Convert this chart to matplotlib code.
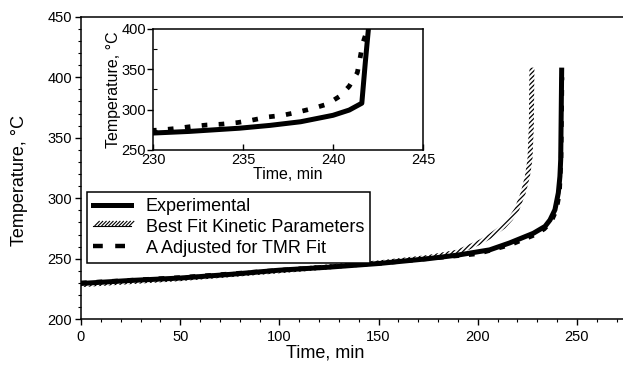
import matplotlib.pyplot as plt
import matplotlib.patheffects as pe
import numpy as np
from matplotlib.patches import Polygon
from matplotlib.lines import Line2D
from matplotlib.ticker import MultipleLocator

plt.rcParams['font.family'] = ['Liberation Sans', 'DejaVu Sans']
plt.rcParams['hatch.linewidth'] = 0.9

# ---- main plot (min, degC) ----
t_exp = [0, 25, 50, 75, 100, 125, 150, 175, 190, 206, 216, 228, 233.9, 236.4,
         238.9, 240.6, 241.4, 241.8, 242.3]
T_exp = [229.5, 232, 234, 237, 240.5, 243, 246, 250, 253, 257.3, 263, 271,
         276.7, 282, 290.5, 304.4, 318, 332, 408]

t_fit = [0, 50, 100, 150, 175, 190, 201.5, 206, 213, 216.5, 219.6, 222.9,
         225, 226.3, 227, 227.3]
T_fit = [228.5, 233.5, 240, 246.5, 251, 255.5, 264, 268.4, 276.7, 283, 290.5,
         304.4, 318, 332, 360, 408]

t_adj = [0, 50, 100, 150, 200, 216.5, 228.5, 233.5, 237, 239.6, 241.2, 242,
         242.5]
T_adj = [230, 234.5, 240.5, 246, 254, 261.5, 269.5, 274.5, 280.5, 290, 304,
         332, 400]

# ---- inset (230-245 min) ----
t_exp_in = [228, 230, 232, 234.8, 236.5, 238.2, 240, 240.9, 241.6, 241.8, 242]
T_exp_in = [269, 271, 273, 277, 280.5, 285, 293, 299.5, 308, 360, 408]

t_adj_in = [228, 230.4, 231.2, 232.1, 233, 233.8, 234.7, 235.5, 236.4, 237.2,
            238, 238.9, 239.7, 240.4, 240.9, 241.35, 241.5, 241.65, 241.9, 242]
T_adj_in = [272, 274.8, 276.5, 279, 281, 282, 284, 287, 291, 293, 296.7, 301.6,
            307, 317, 329, 345.8, 363.6, 382, 399, 408]

fig = plt.figure(figsize=(6.23, 3.66), dpi=100)
ax = fig.add_axes([0.130, 0.128, 0.870, 0.826])
ax.set_xlim(0, 273.2)
ax.set_ylim(200, 450)

ax.plot(t_exp, T_exp, color='black', lw=3.6, solid_capstyle='butt', zorder=3)
ax.plot(t_adj, T_adj, color='black', lw=3.2, ls=(0, (1.3, 2.2)),
        dash_capstyle='butt', zorder=4)

# hatched band for the best fit curve, built in display space
disp = ax.transData.transform(np.column_stack([t_fit, T_fit]))
d = np.gradient(disp, axis=0)
n = np.column_stack([-d[:, 1], d[:, 0]]) / np.hypot(d[:, 0], d[:, 1])[:, None]
half = 2.5
band = np.vstack([disp + half * n, (disp - half * n)[::-1]])
band = ax.transData.inverted().transform(band)
ax.add_patch(Polygon(band, closed=True, facecolor='none', edgecolor='black',
                     lw=0, hatch='///////', zorder=2))

ax.set_xticks([0, 50, 100, 150, 200, 250])
ax.set_yticks([200, 250, 300, 350, 400, 450])
ax.xaxis.set_minor_locator(MultipleLocator(10))
ax.yaxis.set_minor_locator(MultipleLocator(10))
ax.tick_params(which='major', direction='out', length=4.5, width=1, labelsize=10.5)
ax.tick_params(which='minor', direction='out', length=2.5, width=0.8)
ax.tick_params(axis='y', pad=2)
ax.spines['right'].set_visible(False)
for s in ['left', 'bottom', 'top']:
    ax.spines[s].set_linewidth(1.1)

ax.set_xlabel('Time, min', fontsize=13)
ax.set_ylabel('Temperature, °C', fontsize=13)
ax.xaxis.set_label_coords(0.45, -0.085)
ax.yaxis.set_label_coords(-0.098, 0.46)

h_exp = Line2D([], [], color='black', lw=3.6)
h_fit = Line2D([], [], color='black', lw=0.8,
               path_effects=[pe.withTickedStroke(spacing=2.4, angle=45, length=1.8,
                                                 linewidth=0.8)])
h_adj = Line2D([], [], color='black', lw=3.2, ls=(0, (2.2, 2.8)), dash_capstyle='butt')
leg = ax.legend([h_exp, h_fit, h_adj],
                ['Experimental', 'Best Fit Kinetic Parameters', 'A Adjusted for TMR Fit'],
                loc='upper left', bbox_to_anchor=(87 / 623, 1 - 192 / 366),
                bbox_transform=fig.transFigure, borderaxespad=0, fontsize=13,
                fancybox=False, framealpha=1, edgecolor='black',
                handlelength=2.1, handletextpad=0.8, labelspacing=0.2,
                borderpad=0.35)
leg.get_frame().set_linewidth(1.1)

# inset zoom on the runaway
axin = fig.add_axes([0.2456, 0.5902, 0.4334, 0.3306])
axin.plot(t_exp_in, T_exp_in, color='black', lw=3.6, solid_capstyle='butt', zorder=3)
axin.plot(t_adj_in, T_adj_in, color='black', lw=3.4, ls=(0, (1.2, 2.4)),
          dash_capstyle='butt', zorder=4)
axin.set_xlim(230, 245)
axin.set_ylim(250, 400)
axin.set_xticks([230, 235, 240, 245])
axin.set_yticks([250, 300, 350, 400])
axin.yaxis.set_minor_locator(MultipleLocator(25))
axin.tick_params(axis='x', direction='in', length=4, width=1, labelsize=10.5, pad=2)
axin.tick_params(axis='y', which='major', direction='out', length=4, width=1,
                 labelsize=10.5, pad=1)
axin.tick_params(axis='y', which='minor', direction='in', length=3, width=0.8)
for s in axin.spines.values():
    s.set_linewidth(1.1)
axin.set_xlabel('Time, min', fontsize=11.5, labelpad=0)
axin.set_ylabel('Temperature, °C', fontsize=11.5, labelpad=0)

fig.savefig('out.png', dpi=100)
